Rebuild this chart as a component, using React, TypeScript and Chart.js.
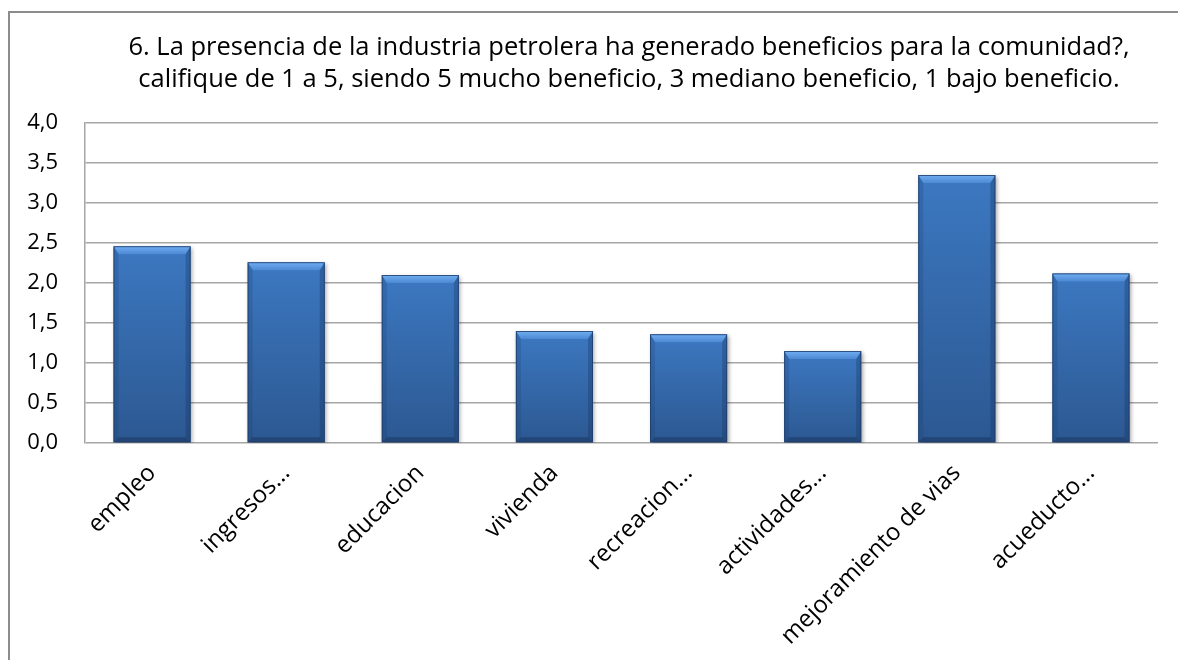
import { useEffect, useRef } from 'react';
import { Chart, registerables } from 'chart.js';

Chart.register(...registerables);

const categories = [
  'empleo',
  'ingresos...',
  'educacion',
  'vivienda',
  'recreacion...',
  'actividades...',
  'mejoramiento de vias',
  'acueducto...',
];
const values = [2.46, 2.26, 2.1, 1.4, 1.36, 1.15, 3.35, 2.12];
const yMin = 0;
const yMax = 4;
const yStep = 0.5;
const titleLines = [
  '6. La presencia de la industria petrolera ha generado beneficios para la comunidad?,',
  'califique de 1 a 5, siendo 5 mucho beneficio, 3 mediano beneficio, 1 bajo beneficio.',
];

const FONT = '"Open Sans", Lato, sans-serif';

const titlePlugin = {
  id: 'customTitle',
  afterDraw(chart: any) {
    const ctx = chart.ctx;
    ctx.save();
    ctx.fillStyle = '#000';
    ctx.font = `25.5px ${FONT}`;
    ctx.textAlign = 'center';
    ctx.textBaseline = 'middle';
    const cx = 619;
    titleLines.forEach((line, i) => ctx.fillText(line, cx, 35 + i * 32));
    ctx.restore();
  },
};

const bevelPlugin = {
  id: 'bevel',
  beforeDatasetsDraw(chart: any) {
    const ctx = chart.ctx;
    ctx.save();
    ctx.shadowColor = 'rgba(0,0,0,0.35)';
    ctx.shadowBlur = 4;
    ctx.shadowOffsetX = 1.5;
    ctx.shadowOffsetY = 1.5;
  },
  afterDatasetsDraw(chart: any) {
    const ctx = chart.ctx;
    ctx.restore();
    const meta = chart.getDatasetMeta(0);
    meta.data.forEach((el: any) => {
      const { x, y, base, width } = el.getProps(['x', 'y', 'base', 'width'], true);
      const l = x - width / 2;
      const r = x + width / 2;
      const t = y;
      const b = base;
      const tb = 8;
      const sb = 5;
      const bb = 5;
      ctx.save();
      const gt = ctx.createLinearGradient(0, t, 0, t + tb);
      gt.addColorStop(0, '#72aef2');
      gt.addColorStop(1, '#4c89d3');
      ctx.fillStyle = gt;
      ctx.beginPath();
      ctx.moveTo(l, t);
      ctx.lineTo(r, t);
      ctx.lineTo(r - sb, t + tb);
      ctx.lineTo(l + sb, t + tb);
      ctx.closePath();
      ctx.fill();
      ctx.fillStyle = 'rgba(25,60,110,0.22)';
      ctx.beginPath();
      ctx.moveTo(l, t);
      ctx.lineTo(l + sb, t + tb);
      ctx.lineTo(l + sb, b - bb);
      ctx.lineTo(l, b);
      ctx.closePath();
      ctx.fill();
      ctx.fillStyle = 'rgba(20,45,90,0.30)';
      ctx.beginPath();
      ctx.moveTo(r, t);
      ctx.lineTo(r - sb, t + tb);
      ctx.lineTo(r - sb, b - bb);
      ctx.lineTo(r, b);
      ctx.closePath();
      ctx.fill();
      ctx.fillStyle = 'rgba(15,35,70,0.35)';
      ctx.beginPath();
      ctx.moveTo(l, b);
      ctx.lineTo(l + sb, b - bb);
      ctx.lineTo(r - sb, b - bb);
      ctx.lineTo(r, b);
      ctx.closePath();
      ctx.fill();
      ctx.strokeStyle = 'rgba(30,60,105,0.8)';
      ctx.lineWidth = 1;
      ctx.strokeRect(l + 0.5, t + 0.5, width - 1, b - t - 1);
      ctx.restore();
    });
  },
};

export default function App() {
  const ref = useRef<HTMLCanvasElement | null>(null);

  useEffect(() => {
    if (!ref.current) return;
    const chart = new Chart(ref.current, {
      type: 'bar',
      data: {
        labels: categories,
        datasets: [
          {
            data: values,
            backgroundColor: (c: any) => {
              const ch = c.chart;
              if (!ch.chartArea || c.type !== 'data') return '#3568a8';
              const top = ch.scales.y.getPixelForValue(c.raw);
              const bottom = ch.scales.y.getPixelForValue(0);
              const g = ch.ctx.createLinearGradient(0, top, 0, bottom);
              g.addColorStop(0, '#3c78c1');
              g.addColorStop(1, '#2c5891');
              return g;
            },
            borderWidth: 0,
            barPercentage: 0.575,
            categoryPercentage: 1,
          },
        ],
      },
      options: {
        responsive: false,
        animation: false,
        layout: { padding: { left: 0, right: 20, top: 110, bottom: 0 } },
        plugins: {
          legend: { display: false },
          title: { display: false },
          tooltip: { enabled: false },
        },
        scales: {
          x: {
            grid: { display: false, drawTicks: false },
            border: { display: false },
            ticks: {
              color: '#000',
              font: { family: FONT, size: 24 },
              maxRotation: 45,
              minRotation: 45,
              padding: 16,
              autoSkip: false,
            },
            afterFit: (s: any) => {
              s.height = 217;
            },
          },
          y: {
            min: yMin,
            max: yMax,
            grid: { color: '#a6a6a6', lineWidth: 1.5, drawTicks: false },
            border: { display: true, color: '#a6a6a6', width: 1.5 },
            ticks: {
              stepSize: yStep,
              color: '#000',
              font: { family: FONT, size: 22 },
              padding: 27,
              callback: (v: any) => Number(v).toFixed(1).replace('.', ','),
            },
            afterFit: (s: any) => {
              s.width = 75;
            },
          },
        },
      },
      plugins: [titlePlugin, bevelPlugin],
    });
    return () => chart.destroy();
  }, []);

  return (
    <div
      style={{
        position: 'fixed',
        left: 8,
        top: 11,
        width: 1170,
        height: 649,
        borderTop: '2px solid #8c8c8c',
        borderLeft: '2px solid #8c8c8c',
        boxSizing: 'border-box',
        background: '#fff',
        overflow: 'hidden',
      }}
    >
      <canvas ref={ref} width={1168} height={647} style={{ display: 'block' }} />
    </div>
  );
}
